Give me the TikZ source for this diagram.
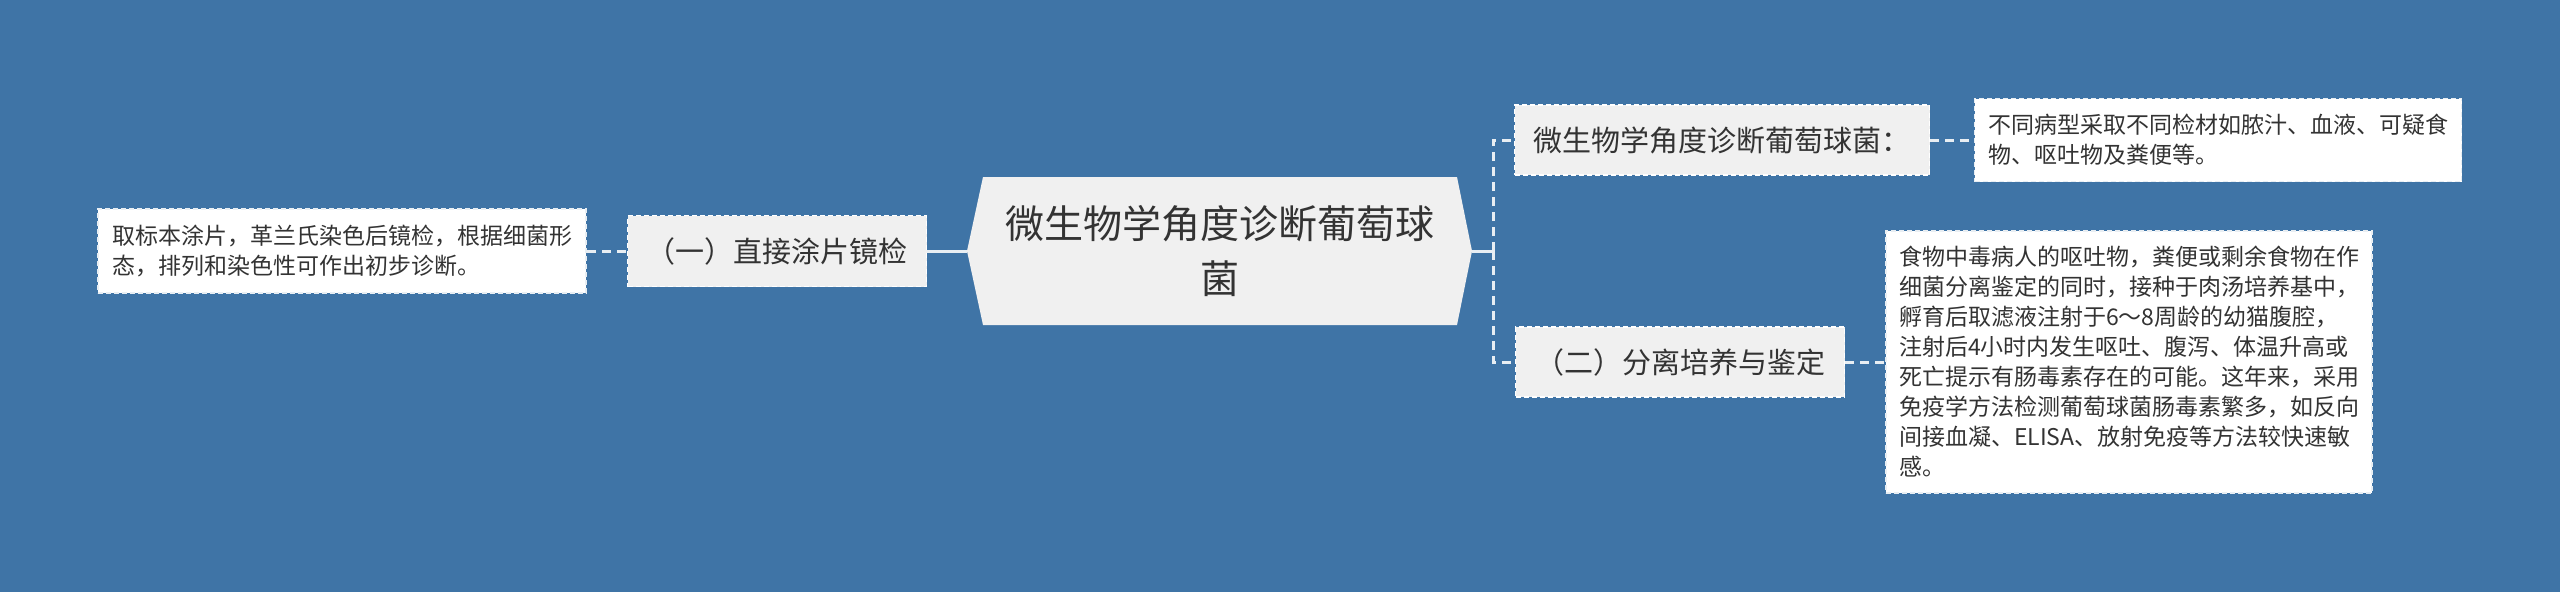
\documentclass[tikz,border=0pt]{standalone}
\usepackage{fontspec}
\setmainfont{Noto Sans CJK SC}
\usetikzlibrary{calc}
\usetikzlibrary{positioning}
\definecolor{mapblue}{HTML}{3F74A6}
\definecolor{topicgray}{HTML}{F0F0F0}
\definecolor{inkgray}{HTML}{333333}
\definecolor{linkwhite}{HTML}{E8EEF3}

\begin{document}
\begin{tikzpicture}
		[
		x=1pt, y=-1pt,
		text=inkgray,
		link/.style={draw=linkwhite,line width=3pt},
		dashlink/.style={link,dash pattern=on 9pt off 6pt}
		]
		
		% Two box styles: grey topics and white leaves
		\tikzstyle{topic node}=[rectangle,fill=topicgray,draw=white,line width=1.5pt,dash pattern=on 5pt off 3pt,inner sep=0,font=\fontsize{29}{36}\selectfont];
		\tikzstyle{leaf node}=[rectangle,fill=white,draw=linkwhite,line width=1.5pt,dash pattern=on 5pt off 3pt,inner sep=0,align=left,font=\fontsize{23}{30}\selectfont];
		
		% Background
		\fill[mapblue](0,0)rectangle(2560,592);
		\useasboundingbox(0,0)rectangle(2560,592);
		
		% Central topic
		\coordinate(hubW)at(967,251);
		\coordinate(hubE)at(1472,251);
		\fill[topicgray](983,177)--(1457,177)--(hubE)--(1457,325)--(983,325)--(hubW)--cycle;
		\node(hub)[align=center,font=\fontsize{39}{55}\selectfont]at(1220,251){微生物学角度诊断葡萄球\\菌};
		
		% Topics
		\node(sub1)[topic node,minimum width=299,minimum height=71]at(777,251){（一）直接涂片镜检};
		\node(sub2)[topic node,minimum width=415,minimum height=70]at(1722,140){微生物学角度诊断葡萄球菌：};
		\node(sub3)[topic node,minimum width=329,minimum height=70]at(1680,362){（二）分离培养与鉴定};
		
		% Leaves
		\node(leafL)[leaf node,minimum width=488,minimum height=84]at(342,251){取标本涂片，革兰氏染色后镜检，根据细菌形\\态，排列和染色性可作出初步诊断。};
		\node(leafR1)[leaf node,minimum width=487,minimum height=83]at(2218,140){不同病型采取不同检材如脓汁、血液、可疑食\\物、呕吐物及粪便等。};
		\node(leafR2)[leaf node,minimum width=486,minimum height=262]at(2129,362){食物中毒病人的呕吐物，粪便或剩余食物在作\\细菌分离鉴定的同时，接种于肉汤培养基中，\\孵育后取滤液注射于6～8周龄的幼猫腹腔，\\注射后4小时内发生呕吐、腹泻、体温升高或\\死亡提示有肠毒素存在的可能。这年来，采用\\免疫学方法检测葡萄球菌肠毒素繁多，如反向\\间接血凝、ELISA、放射免疫等方法较快速敏\\感。};
		
		% Connectors
		\coordinate(jct)at(1493,251);
		\draw[link](sub1.east)--(hubW);
		\draw[dashlink](leafL.east)--(sub1.west);
		\draw[link](hubE)--(jct);
		\draw[dashlink](jct)|-(sub2.west);
		\draw[dashlink](jct)|-(sub3.west);
		\draw[dashlink](sub2.east)--(leafR1.west);
		\draw[dashlink](sub3.east)--(leafR2.west);
		\end{tikzpicture}
\end{document}
